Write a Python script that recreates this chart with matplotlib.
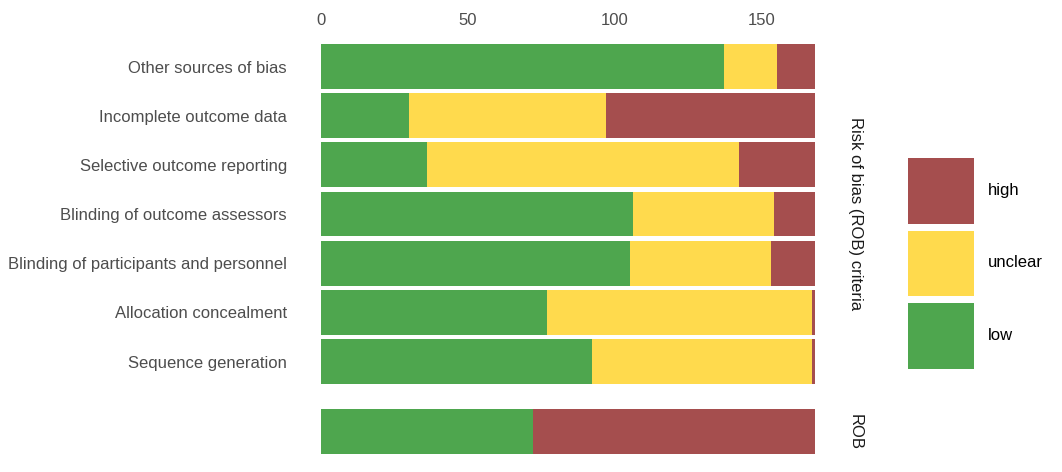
import matplotlib
matplotlib.use("Agg")
import matplotlib.pyplot as plt
from matplotlib.patches import Patch
import numpy as np

plt.rcParams['font.family'] = ['Liberation Sans', 'DejaVu Sans']

criteria = ["Other sources of bias", "Incomplete outcome data", "Selective outcome reporting",
            "Blinding of outcome assessors", "Blinding of participants and personnel",
            "Allocation concealment", "Sequence generation"]
low = [137, 30, 36, 106, 105, 77, 92]
unclear = [18, 67, 106, 48, 48, 90, 75]
high = [13, 71, 26, 14, 15, 1, 1]

rob_label = ["ROB"]
rob_low = [72]
rob_unclear = [0]
rob_high = [96]

levels = ["high", "unclear", "low"]
colors = {"low": "#4EA64E", "unclear": "#FFDA4D", "high": "#A54E4E"}
strip_top = "Risk of bias (ROB) criteria"
strip_bottom = "ROB"
xticks = [0, 50, 100, 150]

W, H = 1062, 472
fig = plt.figure(figsize=(W / 100, H / 100), dpi=100)

x0, x1 = 321, 815
pitch = 49.17
top_c1 = 66.5
ax1_top = top_c1 - pitch / 2
ax1_bot = ax1_top + pitch * len(criteria)
ax2_top = 431.5 - pitch / 2
ax2_bot = ax2_top + pitch

def fig_rect(l, t, r, b):
    return [l / W, 1 - b / H, (r - l) / W, (b - t) / H]

ax1 = fig.add_axes(fig_rect(x0, ax1_top, x1, ax1_bot))
ax2 = fig.add_axes(fig_rect(x0, ax2_top, x1, ax2_bot))

total = max(np.array(low) + np.array(unclear) + np.array(high))

def draw(ax, labels, lo, un, hi):
    y = np.arange(len(labels))
    lo = np.array(lo); un = np.array(un); hi = np.array(hi)
    ax.barh(y, lo, height=0.91, color=colors["low"], linewidth=0)
    ax.barh(y, un, left=lo, height=0.91, color=colors["unclear"], linewidth=0)
    ax.barh(y, hi, left=lo + un, height=0.91, color=colors["high"], linewidth=0)
    ax.set_ylim(len(labels) - 0.5, -0.5)
    ax.set_xlim(0, total)
    for s in ax.spines.values():
        s.set_visible(False)
    ax.tick_params(length=0, colors="#4D4D4D", labelsize=12)

draw(ax1, criteria, low, unclear, high)
ax1.set_yticks(np.arange(len(criteria)))
ax1.set_yticklabels(criteria)
ax1.tick_params(axis='y', pad=24.5)
ax1.xaxis.tick_top()
ax1.set_xticks(xticks)
ax1.tick_params(axis='x', pad=10)

draw(ax2, rob_label, rob_low, rob_unclear, rob_high)
ax2.set_yticks([])
ax2.set_xticks([])

fig.text(855 / W, 1 - ((ax1_top + ax1_bot) / 2) / H, strip_top, rotation=-90,
         ha='center', va='center', fontsize=12, color="#1A1A1A")
fig.text(855 / W, 1 - ((ax2_top + ax2_bot) / 2) / H, strip_bottom, rotation=-90,
         ha='center', va='center', fontsize=12, color="#1A1A1A")

handles = [Patch(facecolor=colors[l], edgecolor='none') for l in levels]
leg = fig.legend(handles, levels, loc='center left', bbox_to_anchor=(908 / W, 1 - 263.5 / H),
                 frameon=False, fontsize=12, handlelength=3.96, handleheight=5.68,
                 labelspacing=0.42, handletextpad=0.85, borderpad=0, borderaxespad=0)

fig.savefig("out.png", dpi=100)
